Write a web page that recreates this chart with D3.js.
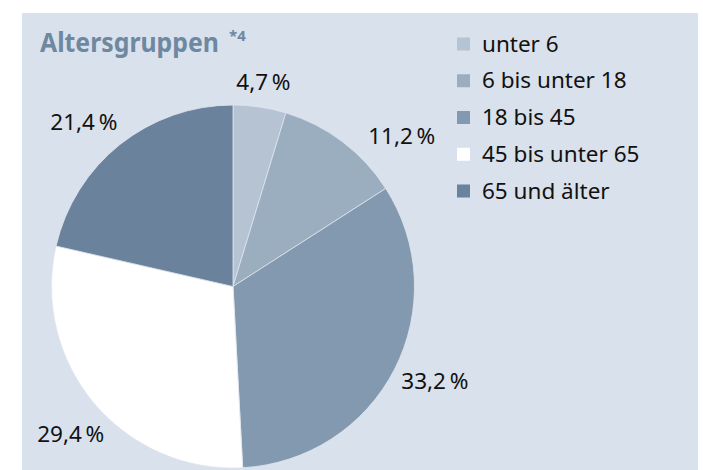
<!DOCTYPE html>
<html>
<head>
<meta charset="utf-8">
<script src="https://cdn.jsdelivr.net/npm/d3@7"></script>
<style>
  html, body { margin: 0; padding: 0; background: #fff; }
  svg { display: block; font-family: "Noto Sans", "Open Sans", sans-serif; }
</style>
</head>
<body>
<div id="chart"></div>
<script>
const categories = ["unter 6", "6 bis unter 18", "18 bis 45", "45 bis unter 65", "65 und älter"];
const values = [4.7, 11.2, 33.2, 29.4, 21.4];
const sliceColors = ["#b5c3d2", "#9aaec0", "#8399af", "#ffffff", "#6a829b"];

const width = 703, height = 470;
const bg = "#d9e1ec";
const titleColor = "#6e88a0";

// hand tweaks so the labels sit like in the print version
const labelNudge = [[-2, 13], [36, 25], [6, -6], [6, 6], [-12, 8]];

const svg = d3.select("#chart")
    .append("svg")
    .attr("width", width)
    .attr("height", height);

svg.append("rect")
    .attr("x", 22)
    .attr("y", 13)
    .attr("width", 676)
    .attr("height", height - 13)
    .attr("fill", bg);

// title + footnote mark (title squeezed a bit, the original font is narrower)
const titleG = svg.append("g");
const title = titleG.append("text")
    .attr("fill", titleColor)
    .style("font-weight", "bold")
    .style("font-size", "27px")
    .text("Altersgruppen");
const sx = Math.min(1, 179 / title.node().getComputedTextLength());
titleG.attr("transform", `translate(40,52) scale(${sx},1)`);

svg.append("text")
    .attr("x", 229)
    .attr("y", 41)
    .attr("fill", titleColor)
    .style("font-weight", "bold")
    .style("font-size", "15px")
    .text("*4");

// pie
const cx = 233, cy = 286.5, radius = 181.5;

const pie = d3.pie()
    .sort(null)
    .value(d => d);

const arcs = pie(values);

const arc = d3.arc()
    .innerRadius(0)
    .outerRadius(radius);

const labelArc = d3.arc()
    .innerRadius(220)
    .outerRadius(220);

const g = svg.append("g")
    .attr("transform", `translate(${cx},${cy})`);

g.selectAll("path")
    .data(arcs)
    .join("path")
    .attr("d", arc)
    .attr("fill", (d, i) => sliceColors[i])
    .attr("stroke", "#dfe6ef")
    .attr("stroke-width", 0.8);

const fmt = v => d3.format(".1f")(v).replace(".", ",") + "\u2009%";

g.selectAll("text.label")
    .data(arcs)
    .join("text")
    .attr("class", "label")
    .attr("x", (d, i) => labelArc.centroid(d)[0] + labelNudge[i][0])
    .attr("y", (d, i) => labelArc.centroid(d)[1] + labelNudge[i][1] + 8)
    .attr("text-anchor", "middle")
    .style("font-size", "22.5px")
    .attr("fill", "#111")
    .text(d => fmt(d.data));

// legend
const legend = svg.append("g")
    .attr("transform", "translate(457, 0)");

const legendY = d3.scalePoint()
    .domain(categories)
    .range([44, 191]);

const rows = legend.selectAll("g")
    .data(categories)
    .join("g")
    .attr("transform", d => `translate(0,${legendY(d)})`);

rows.append("rect")
    .attr("x", 0)
    .attr("y", -6.5)
    .attr("width", 13)
    .attr("height", 13)
    .attr("fill", (d, i) => sliceColors[i]);

rows.append("text")
    .attr("x", 25)
    .attr("y", 7.5)
    .style("font-size", "22.5px")
    .attr("fill", "#111")
    .text(d => d);
</script>
</body>
</html>
